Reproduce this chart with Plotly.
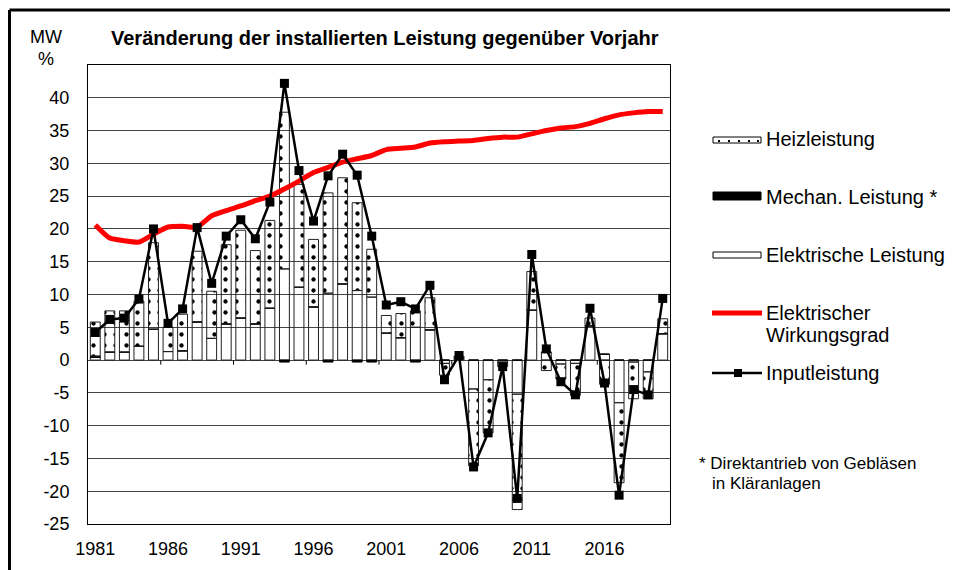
import plotly.graph_objects as go

years = list(range(1981, 2021))

elektrische = [0.4, 1.2, 1.2, 2.1, 4.7, 1.3, 1.4, 5.8, 3.3, 5.5,
               6.4, 5.5, 7.9, 13.9, 11.1, 8.1, 10.2, 11.6, 10.6, 9.6,
               4.1, 3.4, 5.0, 4.6, -0.5, 0.3, -4.4, -3.0, -0.3, -5.2,
               7.6, 1.2, -0.6, -0.5, 5.2, 0.9, -6.5, -0.3, -1.8, 4.0]

mechan = [0.2, 0, 0, 0, 0, 0, 0, 0, 0, 0,
          0, 0, 0, -0.3, 0, 0, -0.3, 0, -0.3, -0.3,
          0, 0, -0.3, 0, 0, 0, 0, 0, 0, 0,
          0, 0, 0, 0, 0, 0, 0, 0, 0, 0]

heiz = [5.2, 6.3, 6.3, 6.9, 13.2, 3.7, 5.6, 10.8, 7.2, 12.1,
        13.4, 11.2, 13.4, 23.9, 15.7, 10.3, 15.3, 16.2, 13.4, 7.3,
        2.7, 3.7, 2.5, 4.9, -1.8, 0.3, -11.7, -8.1, -0.7, -17.6,
        5.9, -1.6, -2.3, -4.9, 1.2, -3.7, -12.2, -5.6, -4.1, 2.3]

wirkungsgrad = [20.6, 18.6, 18.2, 18.0, 19.2, 20.3, 20.4, 20.3, 22.0, 22.8,
                23.5, 24.3, 25.0, 26.1, 27.3, 28.6, 29.4, 30.2, 30.7, 31.2,
                32.1, 32.3, 32.5, 33.1, 33.3, 33.4, 33.5, 33.8, 34.0, 34.0,
                34.5, 35.0, 35.4, 35.6, 36.1, 36.8, 37.4, 37.7, 37.9, 37.9]

inputleistung = [4.2, 6.2, 6.4, 9.3, 20.0, 5.6, 7.8, 20.2, 11.7, 18.9,
                 21.4, 18.5, 24.1, 42.2, 28.9, 21.2, 28.1, 31.4, 28.2, 18.9,
                 8.4, 8.9, 7.8, 11.4, -3.0, 0.7, -16.3, -11.1, -1.0, -21.1,
                 16.1, 1.7, -3.3, -5.3, 7.9, -3.5, -20.6, -4.5, -5.3, 9.4]

x_tick_years = [1981, 1986, 1991, 1996, 2001, 2006, 2011, 2016]
y_ticks = [-25, -20, -15, -10, -5, 0, 5, 10, 15, 20, 25, 30, 35, 40]

FONT = "Liberation Sans, Arial, sans-serif"
OFF = 8  # page body margin
W, H = 958 - OFF, 570 - OFF
L, R, T, B = 88 - OFF, 670 - OFF, 65 - OFF, 524 - OFF


def px(x):
    return ((x - OFF) - L) / (R - L)


def py(y):
    return (B - (y - OFF)) / (B - T)


fig = go.Figure()

fig.add_trace(go.Bar(
    x=years, y=elektrische, name="Elektrische Leistung",
    marker=dict(color="rgba(255,255,255,0)", line=dict(color="#222", width=1)),
    showlegend=False))
fig.add_trace(go.Bar(
    x=years, y=mechan, name="Mechan. Leistung *",
    marker=dict(color="black", line=dict(color="black", width=1)),
    showlegend=False))
fig.add_trace(go.Bar(
    x=years, y=heiz, name="Heizleistung",
    marker=dict(color="rgba(255,255,255,0)", line=dict(color="#222", width=1),
                pattern=dict(shape=".", fgcolor="black", fgopacity=1,
                             bgcolor="rgba(0,0,0,0)", size=11, solidity=0.12)),
    showlegend=False))
fig.add_trace(go.Scatter(
    x=years, y=wirkungsgrad, name="Elektrischer Wirkungsgrad", mode="lines",
    line=dict(color="#ff0000", width=5, shape="spline", smoothing=0.6),
    showlegend=False))
fig.add_trace(go.Scatter(
    x=years, y=inputleistung, name="Inputleistung", mode="lines+markers",
    line=dict(color="black", width=2.5),
    marker=dict(symbol="square", size=9, color="black"),
    showlegend=False))

shapes = []
# tick marks on the zero line between category groups
for k in range(1, 8):
    xb = 1980.5 + 5 * k
    shapes.append(dict(type="line", xref="x", yref="y", x0=xb, x1=xb, y0=0, y1=-0.7,
                       line=dict(color="black", width=1)))
# outer frame (top and left)
shapes.append(dict(type="line", xref="paper", yref="paper", x0=px(9.5), x1=px(958),
                   y0=py(10), y1=py(10), line=dict(color="black", width=3)))
shapes.append(dict(type="line", xref="paper", yref="paper", x0=px(9.5), x1=px(9.5),
                   y0=py(10), y1=py(570), line=dict(color="black", width=3)))
# legend symbols
shapes.append(dict(type="rect", xref="paper", yref="paper", x0=px(713), x1=px(761),
                   y0=py(143), y1=py(137), fillcolor="white", line=dict(color="black", width=1)))
for dx in [718, 728, 738, 748, 757]:
    shapes.append(dict(type="rect", xref="paper", yref="paper", x0=px(dx), x1=px(dx + 2),
                       y0=py(142), y1=py(140), fillcolor="black", line=dict(width=0)))
shapes.append(dict(type="rect", xref="paper", yref="paper", x0=px(713), x1=px(761),
                   y0=py(200), y1=py(192), fillcolor="black", line=dict(color="black", width=1)))
shapes.append(dict(type="rect", xref="paper", yref="paper", x0=px(713), x1=px(761),
                   y0=py(258), y1=py(252), fillcolor="white", line=dict(color="black", width=1)))
shapes.append(dict(type="line", xref="paper", yref="paper", x0=px(712), x1=px(762),
                   y0=py(313), y1=py(313), line=dict(color="#ff0000", width=5)))
shapes.append(dict(type="line", xref="paper", yref="paper", x0=px(712), x1=px(762),
                   y0=py(373), y1=py(373), line=dict(color="black", width=2.5)))
shapes.append(dict(type="rect", xref="paper", yref="paper", x0=px(734), x1=px(742),
                   y0=py(377), y1=py(369), fillcolor="black", line=dict(width=0)))

annotations = []


def text(x, y, s, size=20, bold=False, xanchor="left"):
    annotations.append(dict(
        xref="paper", yref="paper", x=px(x), y=py(y), text=("<b>%s</b>" % s) if bold else s,
        showarrow=False, xanchor=xanchor, yanchor="middle",
        font=dict(family=FONT, size=size, color="black"), align="left"))


text(109, 38, "Veränderung der installierten Leistung gegenüber Vorjahr", size=20, bold=True)
text(46, 37, "MW", size=18, xanchor="center")
text(46, 59, "%", size=18, xanchor="center")
text(764, 139, "Heizleistung")
text(764, 197, "Mechan. Leistung *")
text(764, 255, "Elektrische Leistung")
text(764, 313, "Elektrischer")
text(764, 335, "Wirkungsgrad")
text(764, 373, "Inputleistung")
text(697, 463, "* Direktantrieb von Gebläsen", size=17)
text(710, 483, "in Kläranlagen", size=17)

fig.update_layout(
    width=W, height=H,
    margin=dict(l=L, r=W - R, t=T, b=H - B, pad=0),
    paper_bgcolor="white", plot_bgcolor="white",
    barmode="relative", bargap=0.32,
    font=dict(family=FONT, size=18, color="black"),
    shapes=shapes, annotations=annotations,
    showlegend=False,
)
fig.update_xaxes(
    range=[1980.5, 2020.5], tickmode="array", tickvals=x_tick_years,
    ticktext=[str(v) for v in x_tick_years], ticks="", showgrid=False,
    showline=True, linecolor="black", linewidth=1, mirror=True, zeroline=False,
    tickfont=dict(family=FONT, size=18), ticklabelstandoff=8,
)
fig.update_yaxes(
    range=[-25, 45], tickmode="array", tickvals=y_ticks,
    ticktext=[str(v) for v in y_ticks], ticks="", showgrid=True,
    gridcolor="#444", gridwidth=1, zeroline=True, zerolinecolor="#444", zerolinewidth=1,
    showline=True, linecolor="black", linewidth=1, mirror=True,
    tickfont=dict(family=FONT, size=18), ticklabelstandoff=14,
)

fig.write_html("out.html")
